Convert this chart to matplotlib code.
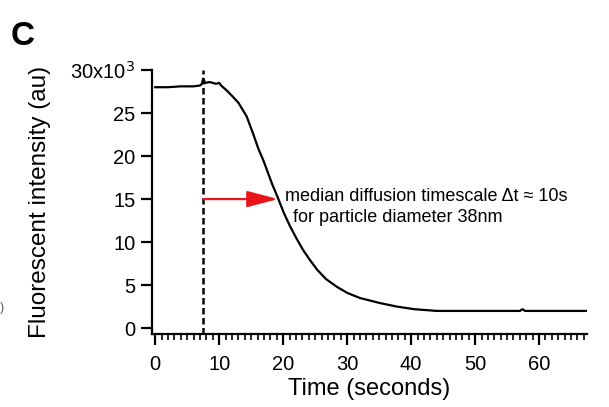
import matplotlib
matplotlib.use("Agg")
import matplotlib.pyplot as plt
from matplotlib.ticker import MultipleLocator, FixedLocator

plt.rcParams['font.family'] = ['Liberation Sans', 'DejaVu Sans']

#############################################
# Data
#############################################
time_s = [0, 2, 4, 6, 7.0, 7.3, 7.5, 7.8, 8.5, 9.5, 10.0, 10.3, 11.2, 12.0,
          13.0, 14.3, 15.4, 16.1, 16.9, 17.5, 18.3, 19.2, 20.1, 21.1, 22.1,
          23.1, 24.2, 25.3, 26.7, 28.4, 30.0, 32.0, 35.2, 37.8, 40.5, 44.0,
          50.0, 57.0, 57.4, 57.8, 62.0, 67.5]
intensity_k = [28.0, 28.0, 28.1, 28.1, 28.2, 28.4, 29.0, 28.5, 28.6, 28.4,
               28.5, 28.2, 27.6, 27.0, 26.2, 24.6, 22.4, 20.9, 19.5, 18.3,
               16.7, 15.1, 13.4, 11.8, 10.4, 9.1, 7.9, 6.8, 5.7, 4.8, 4.1,
               3.5, 2.9, 2.5, 2.2, 2.0, 2.0, 2.0, 2.2, 2.0, 2.0, 2.0]

release_time = 7.5        # dashed marker
median_time = 19.2        # arrow end
arrow_level = 15.0

y_ticks = [0, 5, 10, 15, 20, 25, 30]
y_ticklabels = ['0', '5', '10', '15', '20', '25', r'30x10$^{3}$']
x_ticks = [0, 10, 20, 30, 40, 50, 60]

#############################################
# Figure
#############################################
fig = plt.figure(figsize=(6.09, 4.07), dpi=100)
ax = fig.add_axes([0.2496, 0.179, 0.7144, 0.649])

ax.plot(time_s, intensity_k, color='black', lw=1.6)
ax.plot([release_time, release_time], [-0.7, 30], color='black', lw=1.8,
        linestyle=(0, (2.6, 1.4)), clip_on=False)

ax.annotate('', xy=(median_time, arrow_level), xytext=(release_time, arrow_level),
            arrowprops=dict(arrowstyle='-|>,head_length=0.95,head_width=0.25',
                            color='#e8141a', lw=1.6, mutation_scale=20,
                            shrinkA=0, shrinkB=0))
ax.text(20.3, 15.35, u'median diffusion timescale \u0394t \u2248 10s',
        fontsize=13, va='center', ha='left')
ax.text(21.6, 12.8, 'for particle diameter 38nm',
        fontsize=13, va='center', ha='left')

ax.set_xlim(-0.5, 67.5)
ax.set_ylim(-0.7, 30)

ax.spines['top'].set_visible(False)
ax.spines['right'].set_visible(False)
ax.spines['left'].set_linewidth(1.6)
ax.spines['bottom'].set_linewidth(1.6)

ax.yaxis.set_major_locator(FixedLocator(y_ticks))
ax.set_yticklabels(y_ticklabels)
ax.xaxis.set_major_locator(FixedLocator(x_ticks))
ax.xaxis.set_minor_locator(MultipleLocator(1))
ax.tick_params(axis='y', which='major', direction='out', length=8, width=1.6,
               labelsize=14.5, pad=4)
ax.tick_params(axis='x', which='major', direction='out', length=8, width=1.6,
               labelsize=14.5, pad=7)
ax.tick_params(axis='x', which='minor', direction='out', length=4, width=1.2)

ax.set_xlabel('Time (seconds)', fontsize=17)
ax.set_ylabel('Fluorescent intensity (au)', fontsize=17.5)
ax.xaxis.set_label_coords(0.5, -0.165)
ax.yaxis.set_label_coords(-0.232, 0.50)

# panel letter and clipped fragment of the neighbouring panel
fig.text(0.018, 0.948, 'C', fontsize=24, fontweight='bold', va='top', ha='left')
fig.text(0.0, 0.243, ')', fontsize=9, color='#555555', va='center', ha='left')

fig.savefig('out.png', dpi=100)
